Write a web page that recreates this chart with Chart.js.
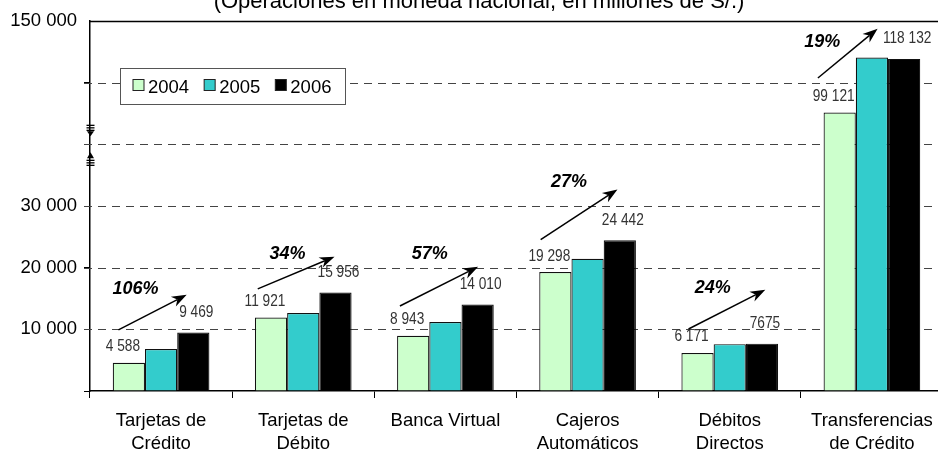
<!DOCTYPE html>
<html>
<head>
<meta charset="utf-8">
<script src="https://cdn.jsdelivr.net/npm/chart.js@4.4.1/dist/chart.umd.min.js"></script>
<style>
  html, body { margin: 0; padding: 0; background: #fff; overflow: hidden; }
  #wrap { width: 938px; height: 451px; overflow: hidden; }
</style>
</head>
<body>
<div id="wrap"><canvas id="chart" width="946" height="451"></canvas></div>
<script>
// --- Data ---
const categories = [
    ['Tarjetas de', 'Crédito'],
    ['Tarjetas de', 'Débito'],
    ['Banca Virtual'],
    ['Cajeros', 'Automáticos'],
    ['Débitos', 'Directos'],
    ['Transferencias', 'de Crédito']
];
const years = ['2004', '2005', '2006'];
const values2004 = [4588, 11921, 8943, 19298, 6171, 99121];
const values2005 = [6800, 12650, 11200, 21450, 7600, 118600];
const values2006 = [9469, 15956, 14010, 24442, 7675, 118132];
const labels2004 = ['4 588', '11 921', '8 943', '19 298', '6 171', '99 121'];
const labels2006 = ['9 469', '15 956', '14 010', '24 442', '7675', '118 132'];
const growth = ['106%', '34%', '57%', '27%', '24%', '19%'];
const yTickValues = [10000, 20000, 30000, 60000];
const yTickLabels = ['10 000', '20 000', '30 000', '150 000'];
const title = '(Operaciones en moneda nacional, en millones de S/.)';

// --- Broken axis: linear up to 30 000, then a compressed upper band ---
// axis units 40 000..60 000 show the values 87 800..131 600
const LOW_MAX = 30000;
const UPPER_AXIS = 40000, UPPER_FROM = 87800, UPPER_SPAN = 43800;
function toAxis(v) {
    if (v <= LOW_MAX) return v;
    return UPPER_AXIS + (v - UPPER_FROM) / UPPER_SPAN * 20000;
}

// arrow annotations: [category offset (fraction of a category), axis units]
const arrowLayout = [
    { from: [-0.30, 9900],  to: [0.18, 15600], text: [-0.18, 16560] },
    { from: [-0.32, 16560], to: [0.22, 21770], text: [-0.11, 22260] },
    { from: [-0.32, 13790], to: [0.23, 20150], text: [-0.11, 22260] },
    { from: [-0.33, 24540], to: [0.21, 32690], text: [-0.13, 33830] },
    { from: [-0.29, 10050], to: [0.25, 16400], text: [-0.12, 16730] },
    { from: [-0.38, 50760], to: [0.04, 58740], text: [-0.35, 56630] }
];

const colors = ['#CCFFCC', '#33CCCC', '#000000'];
const gridValues = [10000, 20000, 30000, 40000, 50000];

function drawArrow(ctx, x1, y1, x2, y2) {
    const ang = Math.atan2(y2 - y1, x2 - x1);
    const len = 15, half = 5.5;
    ctx.beginPath();
    ctx.moveTo(x1, y1);
    ctx.lineTo(x2 - Math.cos(ang) * len * 0.7, y2 - Math.sin(ang) * len * 0.7);
    ctx.stroke();
    ctx.save();
    ctx.translate(x2, y2);
    ctx.rotate(ang);
    ctx.beginPath();
    ctx.moveTo(0, 0);
    ctx.lineTo(-len, -half);
    ctx.lineTo(-len * 0.7, 0);
    ctx.lineTo(-len, half);
    ctx.closePath();
    ctx.fill();
    ctx.restore();
}

// narrow text: Liberation Sans squeezed horizontally
function narrowText(ctx, text, x, y) {
    ctx.save();
    ctx.translate(x, y);
    ctx.scale(0.83, 1);
    ctx.fillText(text, 0, 0);
    ctx.restore();
}

const decor = {
    id: 'decor',
    beforeDatasetsDraw(chart) {
        const { ctx, chartArea: a, scales: { y } } = chart;
        ctx.save();
        ctx.strokeStyle = '#444';
        ctx.lineWidth = 1;
        ctx.setLineDash([8, 6]);
        gridValues.forEach(v => {
            const py = Math.round(y.getPixelForValue(v)) + 0.5;
            ctx.beginPath();
            ctx.moveTo(a.left - 6, py);
            ctx.lineTo(a.right, py);
            ctx.stroke();
        });
        ctx.restore();
    },
    afterDatasetsDraw(chart) {
        const { ctx, chartArea: a, scales: { x, y } } = chart;
        const catW = (a.right - a.left) / categories.length;

        // top frame line
        ctx.save();
        ctx.strokeStyle = '#000';
        ctx.lineWidth = 1.5;
        const pyTop = Math.round(y.getPixelForValue(60000)) + 0.5;
        ctx.beginPath();
        ctx.moveTo(a.left, pyTop);
        ctx.lineTo(a.right, pyTop);
        ctx.stroke();

        // axis break marks
        const pyB = y.getPixelForValue(40000);
        const ax = a.left + 0.5;
        ctx.lineWidth = 1.3;
        [-19, -16.5, -14, 16, 18.5, 21].forEach(d => {
            ctx.beginPath();
            ctx.moveTo(ax - 4, pyB + d);
            ctx.lineTo(ax + 4, pyB + d);
            ctx.stroke();
        });
        ctx.fillStyle = '#000';
        ctx.beginPath();
        ctx.moveTo(ax - 3.5, pyB - 13);
        ctx.lineTo(ax + 3.5, pyB - 13);
        ctx.lineTo(ax, pyB - 8);
        ctx.closePath();
        ctx.fill();
        ctx.beginPath();
        ctx.moveTo(ax - 3.5, pyB + 14);
        ctx.lineTo(ax + 3.5, pyB + 14);
        ctx.lineTo(ax, pyB + 8);
        ctx.closePath();
        ctx.fill();

        // data labels
        ctx.font = '16.5px "Liberation Sans", Arial, sans-serif';
        ctx.fillStyle = '#333';
        ctx.textAlign = 'center';
        ctx.textBaseline = 'middle';
        const m0 = chart.getDatasetMeta(0), m2 = chart.getDatasetMeta(2);
        labels2004.forEach((t, i) => {
            const b = m0.data[i];
            narrowText(ctx, t, b.x - 6, b.y - 16);
        });
        labels2006.forEach((t, i) => {
            const b = m2.data[i];
            narrowText(ctx, t, b.x + 3, b.y - 20);
        });

        // growth arrows and percentages
        ctx.strokeStyle = '#000';
        ctx.fillStyle = '#000';
        ctx.lineWidth = 1.5;
        ctx.font = 'italic bold 18px "Liberation Sans", Arial, sans-serif';
        arrowLayout.forEach((l, i) => {
            const cx = x.getPixelForValue(i);
            drawArrow(ctx,
                cx + l.from[0] * catW, y.getPixelForValue(l.from[1]),
                cx + l.to[0] * catW, y.getPixelForValue(l.to[1]));
            ctx.fillText(growth[i], cx + l.text[0] * catW, y.getPixelForValue(l.text[1]));
        });

        // legend box
        const lx = a.left + 30.5, ly = a.top + 47.5, lw = 225, lh = 36;
        ctx.fillStyle = '#fff';
        ctx.fillRect(lx, ly, lw, lh);
        ctx.strokeStyle = '#555';
        ctx.lineWidth = 1;
        ctx.strokeRect(lx, ly, lw, lh);
        ctx.font = '18.5px "Liberation Sans", Arial, sans-serif';
        ctx.textAlign = 'left';
        let px = lx + 12.5;
        years.forEach((yr, i) => {
            ctx.fillStyle = colors[i];
            ctx.fillRect(px, ly + 11, 11, 11);
            ctx.strokeStyle = '#222';
            ctx.strokeRect(px, ly + 11, 11, 11);
            ctx.fillStyle = '#000';
            ctx.fillText(yr, px + 15, ly + lh / 2 + 1);
            px += 15 + ctx.measureText(yr).width + 15;
        });

        // title (cut by the top edge as in the original)
        ctx.font = '22px "Liberation Sans", Arial, sans-serif';
        ctx.textAlign = 'center';
        ctx.textBaseline = 'alphabetic';
        ctx.fillStyle = '#000';
        ctx.fillText(title, 479, 7.5);
        ctx.restore();
    }
};

document.addEventListener('DOMContentLoaded', () => {
    const ctx = document.getElementById('chart').getContext('2d');
    const series = [values2004, values2005, values2006];

    new Chart(ctx, {
        type: 'bar',
        data: {
            labels: categories,
            datasets: series.map((vals, i) => ({
                label: years[i],
                data: vals.map(toAxis),
                backgroundColor: colors[i],
                borderColor: '#111',
                borderWidth: 1.2,
                categoryPercentage: 0.68,
                barPercentage: 1
            }))
        },
        options: {
            responsive: false,
            devicePixelRatio: 1,
            animation: false,
            layout: { padding: { top: 21, right: 3, left: 0, bottom: 0 } },
            plugins: {
                legend: { display: false },
                tooltip: { enabled: false }
            },
            scales: {
                x: {
                    grid: {
                        display: true,
                        drawOnChartArea: false,
                        drawTicks: true,
                        tickLength: 7,
                        color: '#000',
                        offset: true
                    },
                    border: { display: true, color: '#000', width: 1.5 },
                    ticks: {
                        color: '#000',
                        font: { family: '"Liberation Sans", Arial, sans-serif', size: 18.5, lineHeight: 1.26 },
                        padding: 11,
                        maxRotation: 0,
                        autoSkip: false
                    },
                    afterFit(scale) { scale.height = 60; }
                },
                y: {
                    min: 0,
                    max: 60000,
                    grid: {
                        display: true,
                        drawOnChartArea: false,
                        drawTicks: true,
                        tickLength: 6,
                        color: c => (c.tick && c.tick.value === 60000) ? 'rgba(0,0,0,0)' : '#000'
                    },
                    border: { display: true, color: '#000', width: 1.5 },
                    ticks: {
                        stepSize: 10000,
                        color: '#000',
                        padding: 7,
                        font: { family: '"Liberation Sans", Arial, sans-serif', size: 18.5 },
                        callback: v => {
                            const k = yTickValues.indexOf(v);
                            return k >= 0 ? yTickLabels[k] : '';
                        }
                    },
                    afterFit(scale) { scale.width = 90; }
                }
            }
        },
        plugins: [decor]
    });
});
</script>
</body>
</html>
